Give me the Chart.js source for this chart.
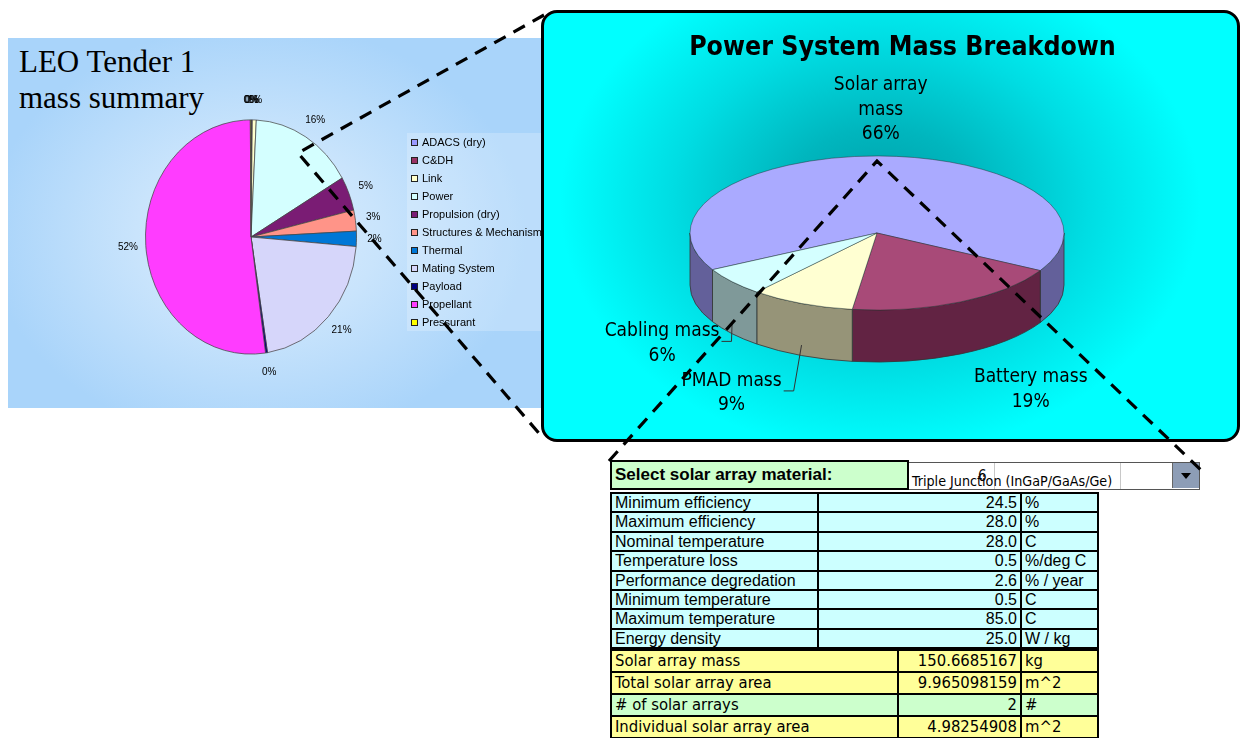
<!DOCTYPE html>
<html>
<head>
<meta charset="utf-8">
<script src="https://cdn.jsdelivr.net/npm/chart.js@4.4.1/dist/chart.umd.min.js"></script>
<style>
body { margin:0; width:1243px; height:738px; overflow:hidden; position:relative; background:#fff; font-family:"Liberation Sans", Arial, sans-serif; }
#leftPanel { position:absolute; left:8px; top:38px; width:535px; height:370px;
  background: radial-gradient(ellipse 270px 210px at 250px 195px, #dcedfd 0%, #c9e4fc 45%, #a9d4fa 100%); }
#leftTitle { position:absolute; left:11px; top:6px; font:31px/36px "Liberation Serif", "Times New Roman", serif; color:#000; }
#legend { position:absolute; left:399px; top:95px; width:160px; height:198px; background:rgba(255,255,255,0.22); }
.legItem { position:absolute; left:4px; height:18px; font:11px/18px "Liberation Sans", Arial, sans-serif; white-space:nowrap; color:#000; }
.legItem i { position:absolute; left:0; top:6px; width:5px; height:5px; border:1px solid #222; }
.legItem span { position:absolute; left:11px; top:0; }
#rightPanel { position:absolute; left:541px; top:10px; width:693px; height:426px; border:3px solid #000; border-radius:16px; overflow:hidden;
  background: radial-gradient(ellipse 320px 250px at 336px 190px, #009ea7 0%, #00b6be 30%, #00dde3 65%, #00ffff 100%); }
#rightTitle { position:absolute; left:12px; top:17px; width:693px; text-align:center; font:bold 26.5px/32px "DejaVu Sans Condensed", "DejaVu Sans", sans-serif; font-stretch:condensed; color:#000; }
canvas { position:absolute; left:0; top:0; }
.cell { position:absolute; box-sizing:border-box; border:2px solid #000; padding:0 3px; white-space:nowrap; overflow:hidden; color:#000; }
.blue { font-size:16px; }
.head { font-size:17px; font-weight:bold; }
.yel { font-family:"Liberation Sans Narrow", "DejaVu Sans Condensed", sans-serif; font-stretch:condensed; font-size:16.5px; }
#pick { position:absolute; left:905px; top:462px; width:293px; height:26px; border:1px solid #555; background:#fff; }
#pick .div { position:absolute; top:0; width:1px; height:26px; background:#c8c8c8; }
#pickText { position:absolute; left:6px; top:9px; font:14.2px/18px "DejaVu Sans Condensed", sans-serif; font-stretch:condensed; white-space:nowrap; }
#pickNum { position:absolute; left:72px; top:4px; font:15px/18px "DejaVu Sans Condensed", sans-serif; }
#pickBtn { position:absolute; left:266px; top:0; width:26px; height:25px; background:#8d9db6; border-left:1px solid #666; }
#pickBtn b { position:absolute; left:8px; top:10px; width:0; height:0; border-left:5px solid transparent; border-right:5px solid transparent; border-top:6px solid #000; }
#callouts { position:absolute; left:0; top:0; }
</style>
</head>
<body>

<div id="leftPanel">
  <div id="leftTitle">LEO Tender 1<br>mass summary</div>
  <canvas id="massChart" width="535" height="370"></canvas>
  <div id="legend"></div>
</div>

<div id="rightPanel">
  <canvas id="powerChart" width="693" height="426"></canvas>
  <div id="rightTitle">Power System Mass Breakdown</div>
</div>

<div id="pick">
  <div class="div" style="left:88px"></div>
  <div class="div" style="left:214px"></div>
  <div id="pickNum">6</div>
  <div id="pickText">Triple Junction (InGaP/GaAs/Ge)</div>
  <div id="pickBtn"><b></b></div>
</div>

<svg id="callouts" width="1243" height="738">
  <polyline points="544,15 298,153 543,438" fill="none" stroke="#000" stroke-width="3.2" stroke-dasharray="13 9"/>
  <polyline points="609,461 877,161 1202,471" fill="none" stroke="#000" stroke-width="3.2" stroke-dasharray="13 9"/>
</svg>

<script>
// LEO Tender 1 mass summary (percent of total)
const massParts = ['ADACS (dry)', 'C&DH', 'Link', 'Power', 'Propulsion (dry)', 'Structures & Mechanisms',
                   'Thermal', 'Mating System', 'Payload', 'Propellant', 'Pressurant'];
const massShare = [0.1, 0.1, 0.6, 15.8, 4.7, 2.9, 2.1, 21.2, 0.3, 52.1, 0.1];

// power system breakdown (percent)
const powerParts = ['Solar array mass', 'Battery mass', 'PMAD mass', 'Cabling mass'];
const powerShare = [66, 19, 9, 6];

// solar array material table
const propNames = ['Minimum efficiency', 'Maximum efficiency', 'Nominal temperature', 'Temperature loss',
                   'Performance degredation', 'Minimum temperature', 'Maximum temperature', 'Energy density'];
const propValues = ['24.5', '28.0', '28.0', '0.5', '2.6', '0.5', '85.0', '25.0'];
const propUnits = ['%', '%', 'C', '%/deg C', '% / year', 'C', 'C', 'W / kg'];

const resultNames = ['Solar array mass', 'Total solar array area', '# of solar arrays', 'Individual solar array area'];
const resultValues = ['150.6685167', '9.965098159', '2', '4.98254908'];
const resultUnits = ['kg', 'm^2', '#', 'm^2'];

const massColors = ['#9999ff', '#993366', '#ffffcc', '#d4ffff', '#7a1c74', '#ff9488', '#0077d6',
                    '#d6d6fa', '#000080', '#ff3cff', '#ffff00'];
const powerTop = ['#aaaaff', '#a84a78', '#ffffd2', '#d4ffff'];
const powerWall = ['#63609a', '#622343', '#969478', '#7f9999'];

function wrap(ctx, text, maxW) {
    const out = [];
    let cur = '';
    text.split(' ').forEach(w => {
        const t = cur ? cur + ' ' + w : w;
        if (cur && ctx.measureText(t).width > maxW) { out.push(cur); cur = w; }
        else cur = t;
    });
    out.push(cur);
    return out;
}

// squashes the pie into an ellipse, adds side walls and outside labels
const squashPie = {
    id: 'squashPie',
    beforeDatasetsDraw(chart, args, o) {
        const ctx = chart.ctx;
        const arcs = chart.getDatasetMeta(0).data;
        if (o.depth) {
            arcs.forEach((a, i) => {
                const rx = a.outerRadius, ry = rx * o.k;
                for (let base = -2 * Math.PI; base < 6 * Math.PI; base += 2 * Math.PI) {
                    const s = Math.max(a.startAngle, base), e = Math.min(a.endAngle, base + Math.PI);
                    if (e <= s) continue;
                    ctx.beginPath();
                    ctx.ellipse(a.x, a.y, rx, ry, 0, s, e, false);
                    ctx.ellipse(a.x, a.y + o.depth, rx, ry, 0, e, s, true);
                    ctx.closePath();
                    ctx.fillStyle = o.wallColors[i];
                    ctx.fill();
                    ctx.lineWidth = 0.8;
                    ctx.strokeStyle = '#333';
                    ctx.stroke();
                }
            });
        }
        const c = arcs[0];
        ctx.save();
        ctx.translate(c.x, c.y);
        ctx.scale(1, o.k);
        ctx.translate(-c.x, -c.y);
    },
    afterDatasetsDraw(chart, args, o) {
        const ctx = chart.ctx;
        ctx.restore();
        const arcs = chart.getDatasetMeta(0).data;
        const vals = chart.data.datasets[0].data;
        const total = vals.reduce((s, v) => s + v, 0);
        ctx.save();
        ctx.font = o.font;
        ctx.fillStyle = '#000';
        ctx.textAlign = 'center';
        ctx.textBaseline = 'middle';
        arcs.forEach((a, i) => {
            const mid = (a.startAngle + a.endAngle) / 2;
            const nx = Math.cos(mid), ny = Math.sin(mid);
            const rx = a.outerRadius, ry = rx * o.k;
            const x = a.x + nx * rx * o.rf + o.padX * Math.max(-1, Math.min(1, nx * 5));
            const y = a.y + ny * (ry * o.rf + o.padY) + Math.max(ny, 0) * o.depth;
            const lines = o.showName ? wrap(ctx, chart.data.labels[i], o.wrapWidth) : [];
            lines.push(Math.round(vals[i] / total * 100) + '%');
            const top = y - (lines.length - 1) * o.lineH / 2;
            lines.forEach((t, j) => ctx.fillText(t, x, top + j * o.lineH));
            if (o.leaders && nx < 0 && ny > 0) {
                const w = ctx.measureText(lines[0]).width;
                const lx = x + w / 2 + 2, ly = top + 10;
                ctx.beginPath();
                ctx.moveTo(lx, ly);
                ctx.lineTo(lx + 10, ly);
                ctx.lineTo(a.x + nx * rx, a.y + ny * ry + o.depth * 0.8);
                ctx.lineWidth = 1;
                ctx.strokeStyle = '#333';
                ctx.stroke();
            }
        });
        ctx.restore();
    }
};

new Chart(document.getElementById('massChart'), {
    type: 'pie',
    data: {
        labels: massParts,
        datasets: [{ data: massShare, backgroundColor: massColors, borderColor: '#444', borderWidth: 0.7, radius: 105.5, clip: false }]
    },
    options: {
        responsive: false,
        animation: false,
        layout: { padding: { left: 143, right: 192, top: 99, bottom: 71 } },
        plugins: {
            legend: { display: false },
            tooltip: { enabled: false },
            squashPie: { k: 1.11, depth: 0, rf: 1.17, padX: 0, padY: 0, font: '10px "Liberation Sans", Arial', lineH: 12, showName: false }
        }
    },
    plugins: [squashPie]
});

new Chart(document.getElementById('powerChart'), {
    type: 'pie',
    data: {
        labels: powerParts,
        datasets: [{ data: powerShare, backgroundColor: powerTop, borderColor: 'rgba(40,40,40,0.8)', borderWidth: 0.8, radius: 187, clip: false }]
    },
    options: {
        responsive: false,
        animation: false,
        rotation: 241.6,
        layout: { padding: { left: 183, right: 210, top: 70, bottom: 56 } },
        plugins: {
            legend: { display: false },
            tooltip: { enabled: false },
            squashPie: { k: 0.412, depth: 52, wallColors: powerWall, rf: 1, padX: 70, padY: 46,
                         font: '19px "DejaVu Sans Condensed", "DejaVu Sans", sans-serif', lineH: 24.5,
                         showName: true, wrapWidth: 135, leaders: true }
        }
    },
    plugins: [squashPie]
});

// legend for the mass summary
const legend = document.getElementById('legend');
massParts.forEach((name, i) => {
    const d = document.createElement('div');
    d.className = 'legItem';
    d.style.top = i * 18 + 'px';
    d.innerHTML = '<i style="background:' + massColors[i] + '"></i><span></span>';
    d.querySelector('span').textContent = name;
    legend.appendChild(d);
});

function addCell(x, y, w, h, text, bg, align, cls) {
    const d = document.createElement('div');
    d.className = 'cell ' + cls;
    d.style.left = x + 'px';
    d.style.top = y + 'px';
    d.style.width = (w + 2) + 'px';
    d.style.height = (h + 2) + 'px';
    d.style.lineHeight = (h - 2) + 'px';
    d.style.background = bg;
    d.style.textAlign = align;
    d.textContent = text;
    document.body.insertBefore(d, document.getElementById('callouts'));
}

addCell(610, 460, 297, 28, 'Select solar array material:', '#ccffcc', 'left', 'head');

const rowH = 19.375;
propNames.forEach((name, i) => {
    const y = 492 + i * rowH;
    addCell(610, y, 207, rowH, name, '#ccffff', 'left', 'blue');
    addCell(817, y, 203, rowH, propValues[i], '#ccffff', 'right', 'blue');
    addCell(1020, y, 77, rowH, propUnits[i], '#ccffff', 'left', 'blue');
});

resultNames.forEach((name, i) => {
    const y = 649 + i * 22;
    const bg = i === 2 ? '#ccffcc' : '#ffff99';
    addCell(610, y, 287, 22, name, bg, 'left', 'yel');
    addCell(897, y, 123, 22, resultValues[i], bg, 'right', 'yel');
    addCell(1020, y, 77, 22, resultUnits[i], bg, 'left', 'yel');
});
</script>
</body>
</html>
